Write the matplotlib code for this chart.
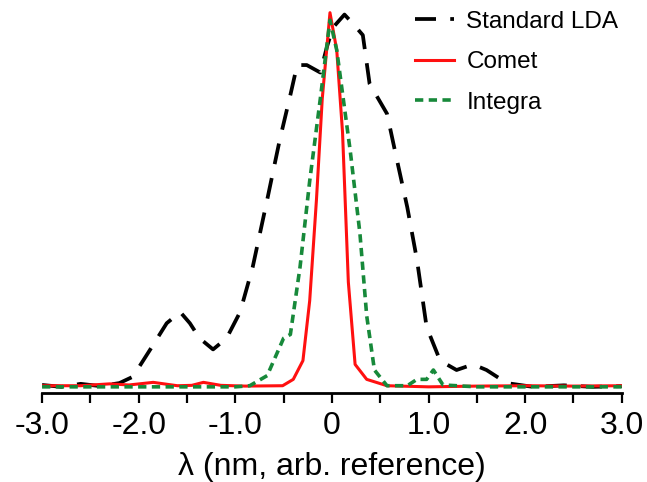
import matplotlib
matplotlib.use("Agg")
import matplotlib.pyplot as plt

plt.rcParams['font.family'] = ['Liberation Sans', 'DejaVu Sans']

# wavelength offsets (nm) and normalised intensity for each spectrum
lda_x = [-3.0, -2.8, -2.6, -2.4, -2.2, -2.06, -1.88, -1.71, -1.57, -1.47, -1.37, -1.23,
         -1.09, -0.95, -0.82, -0.67, -0.54, -0.43, -0.36, -0.26, -0.12, -0.05, 0.01,
         0.13, 0.22, 0.32, 0.39, 0.57, 0.67, 0.78, 0.88, 0.98, 1.12, 1.29, 1.46, 1.60,
         1.81, 2.08, 2.4, 2.7, 3.0]
lda_y = [0.005, 0.0, 0.008, 0.002, 0.01, 0.027, 0.10, 0.17, 0.20, 0.17, 0.13, 0.10,
         0.13, 0.20, 0.32, 0.50, 0.66, 0.78, 0.86, 0.86, 0.84, 0.91, 0.96,
         0.995, 0.97, 0.94, 0.81, 0.73, 0.61, 0.48, 0.34, 0.16, 0.07, 0.045, 0.06, 0.045,
         0.01, 0.0, 0.004, 0.0, 0.002]

comet_x = [-3.0, -2.6, -2.3, -2.1, -1.85, -1.6, -1.45, -1.33, -1.15, -0.9, -0.51, -0.40,
           -0.30, -0.23, -0.16, -0.10, -0.02, 0.05, 0.11, 0.17, 0.24, 0.36, 0.57, 1.0,
           1.5, 2.0, 2.5, 3.0]
comet_y = [0.003, 0.003, 0.008, 0.005, 0.012, 0.003, 0.004, 0.012, 0.004, 0.002, 0.003, 0.02,
           0.07, 0.23, 0.50, 0.77, 1.0, 0.90, 0.68, 0.28, 0.06, 0.02, 0.003, 0.0,
           0.002, 0.003, 0.002, 0.003]

integra_x = [-3.0, -2.5, -2.0, -1.5, -1.0, -0.85, -0.67, -0.50, -0.43, -0.33, -0.23, -0.12,
             -0.02, 0.05, 0.19, 0.29, 0.36, 0.44, 0.57, 0.78, 0.88, 0.98, 1.05, 1.15,
             1.5, 2.0, 2.5, 3.0]
integra_y = [0.0, 0.0, 0.0, 0.0, 0.0, 0.003, 0.03, 0.13, 0.14, 0.32, 0.55, 0.77,
             0.98, 0.90, 0.63, 0.41, 0.19, 0.045, 0.003, 0.003, 0.02, 0.02, 0.045, 0.005,
             0.0, 0.0, 0.0, 0.0]

xticks = [-3.0, -2.5, -2.0, -1.5, -1.0, -0.5, 0, 0.5, 1.0, 1.5, 2.0, 2.5, 3.0]
xtick_labels = ['-3.0', '', '-2.0', '', '-1.0', '', '0', '', '1.0', '', '2.0', '', '3.0']

fig = plt.figure(figsize=(6.47, 4.82), dpi=100)
ax = fig.add_axes([0.065, 0.185, 0.896, 0.805])

ax.plot(lda_x, lda_y, color='black', lw=2.7, linestyle=(0, (5.6, 3.8)), label='Standard LDA')
ax.plot(comet_x, comet_y, color='#ff1010', lw=2.2, label='Comet')
ax.plot(integra_x, integra_y, color='#17893a', lw=2.6, linestyle=(0, (2.3, 1.5)), label='Integra')

ax.set_xlim(-3.0, 3.0)
ax.set_ylim(-0.016, 1.021)

for side in ['top', 'right', 'left']:
    ax.spines[side].set_visible(False)
ax.spines['bottom'].set_linewidth(2.0)
ax.set_yticks([])
ax.set_xticks(xticks)
ax.set_xticklabels(xtick_labels, fontsize=23)
ax.tick_params(axis='x', direction='out', length=7, width=1.6, pad=6)
ax.set_xlabel('λ (nm, arb. reference)', fontsize=23, labelpad=8)

ax.legend(loc='upper right', bbox_to_anchor=(0.994, 0.985), frameon=False, fontsize=17.5,
          handlelength=1.6, handletextpad=0.5, labelspacing=0.76,
          borderaxespad=0.0, borderpad=0.0)

fig.savefig('out.png', dpi=100)
